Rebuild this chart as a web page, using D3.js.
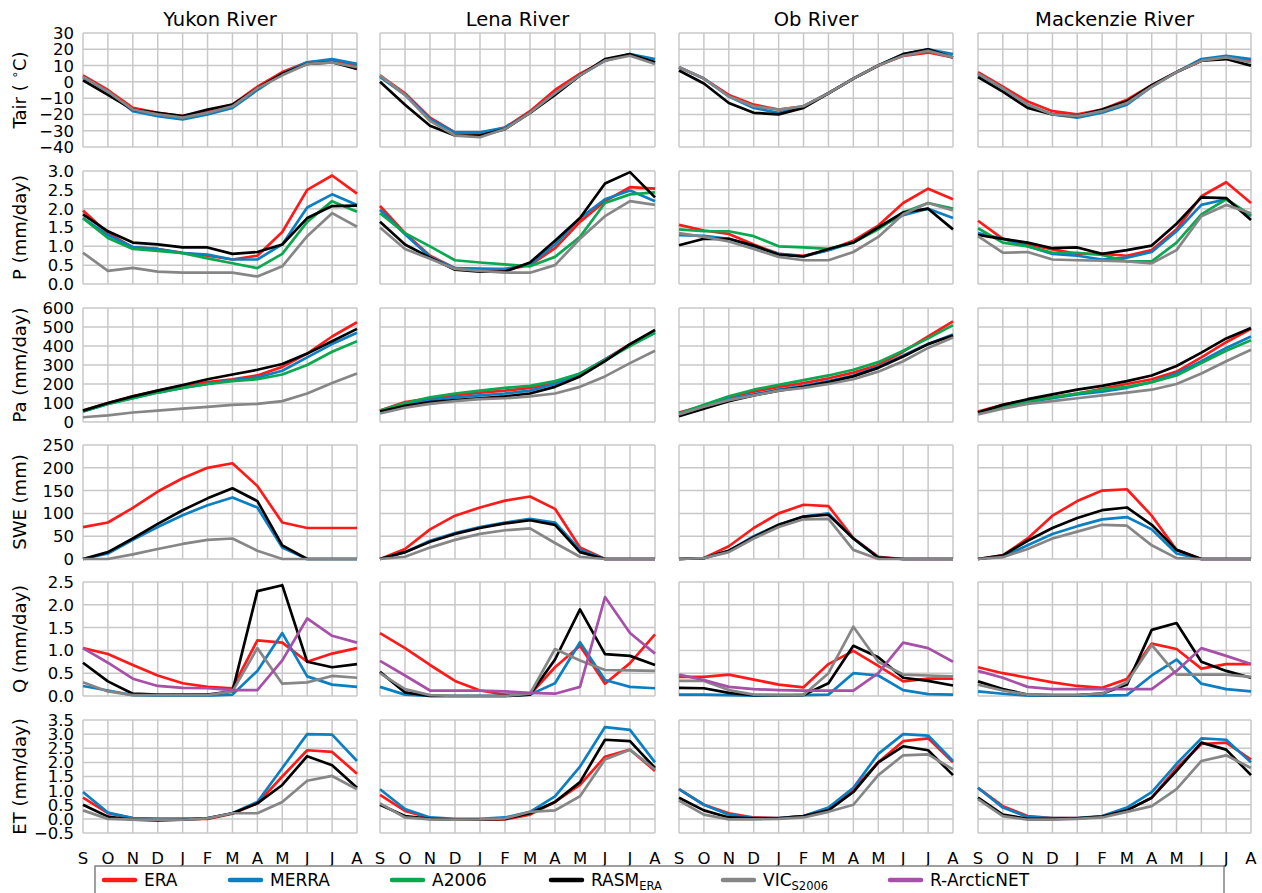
<!DOCTYPE html>
<html><head><meta charset="utf-8">
<script src="https://cdn.jsdelivr.net/npm/d3@7"></script>
<style>body{margin:0;background:#fff}svg{display:block;font-family:"DejaVu Sans",sans-serif}</style>
</head><body><svg id="c" width="1262" height="893"></svg>
<script>
const months = ["S","O","N","D","J","F","M","A","M","J","J","A"];
const rivers = ["Yukon River","Lena River","Ob River","Mackenzie River"];

// tick values per variable
const tairTicks = [-40,-30,-20,-10,0,10,20,30];
const pTicks = [0,0.5,1,1.5,2,2.5,3];
const paTicks = [0,100,200,300,400,500,600];
const sweTicks = [0,50,100,150,200,250];
const qTicks = [0,0.5,1,1.5,2,2.5];
const etTicks = [-0.5,0,0.5,1,1.5,2,2.5,3,3.5];

// each array: one row per river (Yukon, Lena, Ob, Mackenzie), 12 months S..A
const tair_ERA = [
 [4,-5,-16,-19,-21,-18,-14,-3,6,12,13,10],
 [4,-7,-22,-31,-32,-28,-18,-5,5,13,17,12],
 [9,2,-8,-14,-17,-15,-7,2,10,16,18,15],
 [6,-3,-12,-18,-20,-17,-11,-2,6,13,15,13]];
const tair_MERRA = [
 [3,-6,-18,-21,-23,-20,-16,-5,5,12,14,11],
 [3,-8,-23,-31,-31,-28,-19,-7,4,13,17,14],
 [9,2,-9,-16,-19,-15,-7,2,10,17,20,17],
 [5,-4,-14,-20,-22,-19,-14,-3,6,14,16,14]];
const tair_RASM = [
 [1,-8,-17,-19,-21,-17,-14,-4,5,11,12,8],
 [0,-14,-27,-33,-33,-29,-19,-8,4,14,17,12],
 [7,-1,-13,-19,-20,-16,-7,2,10,17,20,15],
 [3,-6,-16,-20,-21,-17,-12,-2,6,13,14,10]];
const tair_VIC = [
 [3,-6,-17,-20,-22,-19,-15,-4,4,11,12,9],
 [4,-8,-24,-33,-34,-29,-19,-7,4,13,16,11],
 [9,2,-9,-15,-17,-15,-7,2,10,16,19,15],
 [5,-4,-14,-20,-21,-18,-13,-3,6,13,15,12]];

const p_ERA = [
 [1.95,1.35,0.97,0.93,0.83,0.75,0.65,0.75,1.38,2.5,2.88,2.4],
 [2.07,1.35,0.75,0.42,0.4,0.38,0.5,0.95,1.65,2.2,2.57,2.53],
 [1.57,1.42,1.33,1.05,0.8,0.75,0.9,1.15,1.55,2.15,2.53,2.25],
 [1.68,1.2,1.05,0.92,0.8,0.8,0.75,0.9,1.45,2.33,2.7,2.15]];
const p_MERRA = [
 [1.75,1.3,0.98,0.93,0.82,0.78,0.65,0.65,1.05,2.03,2.38,2.1],
 [1.97,1.32,0.72,0.42,0.4,0.4,0.52,1.05,1.75,2.25,2.48,2.2],
 [1.3,1.28,1.2,1.0,0.8,0.73,0.9,1.1,1.5,1.83,2.0,1.75],
 [1.35,1.2,1.0,0.8,0.75,0.65,0.7,0.85,1.4,2.1,2.25,1.8]];
const p_A2006 = [
 [1.75,1.22,0.93,0.88,0.82,0.68,0.55,0.42,0.8,1.65,2.2,1.92],
 [1.88,1.35,1.0,0.63,0.57,0.52,0.47,0.72,1.25,2.15,2.38,2.43],
 [1.45,1.4,1.4,1.27,1.0,0.97,0.93,1.1,1.45,1.9,2.15,2.0],
 [1.48,1.1,1.0,0.83,0.83,0.77,0.6,0.6,1.1,1.85,2.25,1.83]];
const p_RASM = [
 [1.85,1.4,1.1,1.05,0.97,0.97,0.8,0.85,1.05,1.75,2.07,2.08],
 [1.65,1.05,0.7,0.38,0.33,0.33,0.57,1.15,1.75,2.67,2.97,2.3],
 [1.03,1.2,1.2,1.02,0.78,0.73,0.93,1.1,1.5,1.9,2.0,1.45],
 [1.3,1.2,1.1,0.95,0.97,0.8,0.9,1.02,1.6,2.3,2.28,1.7]];
const p_VIC = [
 [0.83,0.35,0.43,0.33,0.3,0.3,0.3,0.2,0.47,1.27,1.88,1.52],
 [1.5,0.93,0.67,0.4,0.35,0.3,0.3,0.5,1.2,1.8,2.2,2.1],
 [1.35,1.25,1.13,0.93,0.72,0.63,0.63,0.85,1.25,1.85,2.15,1.95],
 [1.27,0.83,0.85,0.65,0.63,0.62,0.6,0.55,0.9,1.8,2.1,1.88]];

const pa_ERA = [
 [60,100,135,165,190,210,225,245,290,360,450,525],
 [60,105,125,140,155,165,180,205,250,330,410,480],
 [50,85,130,160,185,205,230,260,300,370,450,530],
 [55,90,115,130,150,175,200,225,265,340,420,490]];
const pa_MERRA = [
 [55,95,125,155,180,200,220,235,270,340,410,470],
 [55,90,115,130,140,150,165,200,255,330,405,470],
 [45,85,120,145,170,190,215,245,290,350,410,460],
 [50,80,105,125,145,160,180,210,255,320,390,450]];
const pa_A2006 = [
 [55,95,125,155,180,200,215,225,250,300,370,425],
 [60,100,130,150,165,180,190,215,255,325,400,470],
 [45,90,135,170,195,220,245,275,315,375,440,510],
 [50,80,110,130,150,170,185,210,245,310,375,430]];
const pa_RASM = [
 [60,100,135,165,195,225,250,275,305,360,425,490],
 [55,85,105,115,125,135,150,185,240,320,410,485],
 [30,70,110,140,165,185,210,240,285,345,410,455],
 [50,90,120,145,170,190,215,245,295,365,440,495]];
const pa_VIC = [
 [25,35,50,60,70,80,90,95,110,150,205,255],
 [45,75,95,110,120,125,135,150,185,240,310,375],
 [40,80,115,140,165,180,200,225,265,320,390,445],
 [40,70,95,110,125,140,155,170,200,255,320,380]];

const swe_ERA = [
 [70,80,112,148,177,200,210,160,80,68,68,68],
 [0,22,65,95,113,128,137,110,25,0,0,0],
 [0,2,28,68,100,119,116,46,5,0,0,0],
 [0,8,45,95,127,150,153,95,20,0,0,0]];
const swe_MERRA = [
 [0,12,42,70,96,118,135,113,25,0,0,0],
 [0,15,40,57,70,80,88,80,20,0,0,0],
 [0,2,18,50,75,93,100,45,3,0,0,0],
 [0,5,30,55,72,87,92,65,12,0,0,0]];
const swe_RASM = [
 [0,15,45,77,107,133,155,127,30,0,0,0],
 [0,15,38,55,68,78,85,75,15,0,0,0],
 [0,2,18,48,75,93,97,45,3,0,0,0],
 [0,8,40,68,90,107,113,75,20,0,0,0]];
const swe_VIC = [
 [0,0,10,22,33,42,45,18,0,0,0,0],
 [0,5,25,42,55,63,67,35,5,0,0,0],
 [0,2,15,45,70,87,88,20,0,0,0,0],
 [0,4,22,45,60,75,73,30,2,0,0,0]];

const q_ERA = [
 [1.05,0.92,0.68,0.45,0.28,0.2,0.17,1.22,1.17,0.75,0.93,1.05],
 [1.38,1.05,0.68,0.33,0.12,0.03,0.03,0.63,1.1,0.27,0.72,1.35],
 [0.42,0.42,0.47,0.36,0.25,0.19,0.7,0.99,0.66,0.32,0.38,0.38],
 [0.63,0.5,0.4,0.3,0.22,0.18,0.37,1.15,1.03,0.6,0.7,0.7]];
const q_MERRA = [
 [0.22,0.12,0.02,0.01,0.01,0.01,0.03,0.55,1.38,0.43,0.25,0.2],
 [0.2,0.03,0,0,0,0,0.03,0.28,1.18,0.35,0.2,0.17],
 [0.03,0.03,0.02,0.01,0.01,0.02,0.03,0.5,0.45,0.13,0.04,0.03],
 [0.1,0.05,0.01,0.01,0.01,0.01,0.02,0.45,0.8,0.27,0.15,0.1]];
const q_RASM = [
 [0.73,0.32,0.05,0.03,0.03,0.03,0.1,2.3,2.43,0.75,0.63,0.7],
 [0.53,0.08,0,0,0,0,0.03,0.8,1.9,0.92,0.88,0.68],
 [0.18,0.17,0.07,0.02,0.02,0.02,0.28,1.1,0.85,0.4,0.33,0.23],
 [0.32,0.15,0.03,0.02,0.02,0.05,0.25,1.45,1.6,0.75,0.55,0.4]];
const q_VIC = [
 [0.3,0.1,0.02,0.02,0.02,0.02,0.1,1.05,0.27,0.3,0.44,0.4],
 [0.5,0.15,0.02,0,0,0,0.05,1.03,0.78,0.57,0.56,0.55],
 [0.33,0.33,0.13,0.03,0.02,0.02,0.5,1.52,0.75,0.47,0.45,0.43],
 [0.25,0.12,0.03,0.02,0.02,0.05,0.3,1.12,0.47,0.47,0.47,0.42]];
const q_RAN = [
 [1.05,0.73,0.38,0.22,0.18,0.17,0.13,0.13,0.78,1.7,1.32,1.17],
 [0.77,0.45,0.12,0.12,0.12,0.1,0.07,0.05,0.2,2.17,1.38,0.93],
 [0.47,0.35,0.2,0.15,0.13,0.12,0.12,0.12,0.5,1.17,1.05,0.75],
 [0.55,0.4,0.2,0.15,0.15,0.15,0.15,0.15,0.55,1.05,0.88,0.7]];

const et_ERA = [
 [0.75,0.2,0.03,0,0,0,0.18,0.55,1.5,2.43,2.37,1.6],
 [0.85,0.28,0.03,-0.03,-0.03,-0.02,0.15,0.6,1.2,2.2,2.45,1.7],
 [1.05,0.5,0.2,0.05,0.03,0.1,0.35,1.05,2.0,2.75,2.85,2.0],
 [1.1,0.45,0.1,0.03,0.03,0.08,0.3,0.75,1.8,2.65,2.7,2.1]];
const et_MERRA = [
 [0.95,0.22,0.03,0,0,0.03,0.2,0.6,1.8,3.0,2.98,2.05],
 [1.05,0.35,0.05,0,0,0.05,0.25,0.8,1.85,3.25,3.15,2.0],
 [1.05,0.5,0.15,0.03,0.03,0.1,0.4,1.1,2.3,3.0,2.95,2.05],
 [1.1,0.4,0.07,0.03,0.03,0.1,0.4,0.95,1.95,2.85,2.8,2.0]];
const et_RASM = [
 [0.5,0.08,-0.03,-0.05,-0.03,0.02,0.2,0.55,1.2,2.22,1.9,1.1],
 [0.5,0.1,0,-0.03,-0.03,0,0.2,0.6,1.3,2.8,2.75,1.8],
 [0.75,0.3,0.05,0.02,0.02,0.1,0.3,0.95,2.0,2.57,2.43,1.55],
 [0.75,0.15,0,0,0.02,0.08,0.3,0.75,1.7,2.7,2.45,1.55]];
const et_VIC = [
 [0.3,0,-0.03,-0.03,-0.03,0.02,0.2,0.2,0.6,1.35,1.52,1.05],
 [0.55,0.05,-0.02,-0.03,-0.02,0.02,0.25,0.3,0.8,2.1,2.45,1.75],
 [0.65,0.15,-0.02,-0.02,0,0.05,0.25,0.5,1.55,2.25,2.28,1.75],
 [0.7,0.1,-0.03,-0.03,0,0.05,0.25,0.45,1.05,2.05,2.25,1.8]];

const seriesKeys = ["ERA","MERRA","A2006","RASM","VIC","RAN"];
const colors = {ERA:"#ff1a1a", MERRA:"#0b7fc2", A2006:"#0aa84f", RASM:"#000000", VIC:"#868686", RAN:"#a650a8"};

const rowsDef = [
 {label:"tair", ticks:tairTicks, fmt:d3.format("d"), data:{ERA:tair_ERA, MERRA:tair_MERRA, RASM:tair_RASM, VIC:tair_VIC}},
 {label:"P (mm/day)", ticks:pTicks, fmt:d3.format(".1f"), data:{ERA:p_ERA, MERRA:p_MERRA, A2006:p_A2006, RASM:p_RASM, VIC:p_VIC}},
 {label:"Pa (mm/day)", ticks:paTicks, fmt:d3.format("d"), data:{ERA:pa_ERA, MERRA:pa_MERRA, A2006:pa_A2006, RASM:pa_RASM, VIC:pa_VIC}},
 {label:"SWE (mm)", ticks:sweTicks, fmt:d3.format("d"), data:{ERA:swe_ERA, MERRA:swe_MERRA, RASM:swe_RASM, VIC:swe_VIC}},
 {label:"Q (mm/day)", ticks:qTicks, fmt:d3.format(".1f"), data:{ERA:q_ERA, MERRA:q_MERRA, RASM:q_RASM, VIC:q_VIC, RAN:q_RAN}},
 {label:"ET (mm/day)", ticks:etTicks, fmt:d3.format(".1f"), data:{ERA:et_ERA, MERRA:et_MERRA, RASM:et_RASM, VIC:et_VIC}}
];

const svg = d3.select("#c");
const colX = [[83,357],[380,655],[679,953],[978,1251]];
const rowY = [[33,147],[171,284],[308,422],[445,559],[582,696],[720,833]];
const gridColor = "#c8c8c8";

rivers.forEach((r,ci)=>{
  svg.append("text").attr("x",(colX[ci][0]+colX[ci][1])/2).attr("y",26)
    .attr("text-anchor","middle").attr("font-size",19.5).text(r);
});

rowsDef.forEach((row,ri)=>{
  const y = d3.scaleLinear().domain(d3.extent(row.ticks)).range([rowY[ri][1],rowY[ri][0]]);
  const cy = (rowY[ri][0]+rowY[ri][1])/2;
  const lab = svg.append("text").attr("transform",`translate(26,${cy}) rotate(-90)`)
    .attr("text-anchor","middle").attr("font-size",18);
  if(row.label==="tair"){
    lab.append("tspan").text("Tair ( ");
    lab.append("tspan").attr("font-size",12).attr("dy",-7).text("∘");
    lab.append("tspan").attr("dy",7).text("C)");
  } else lab.text(row.label);

  colX.forEach((cx,ci)=>{
    const x = d3.scaleLinear().domain([0,11]).range(cx);
    const g = svg.append("g");
    g.selectAll(".vg").data(d3.range(12)).join("line")
      .attr("x1",d=>x(d)).attr("x2",d=>x(d)).attr("y1",rowY[ri][0]).attr("y2",rowY[ri][1])
      .attr("stroke",gridColor).attr("stroke-width",1.5);
    g.selectAll(".hg").data(row.ticks).join("line")
      .attr("x1",cx[0]).attr("x2",cx[1]).attr("y1",d=>y(d)).attr("y2",d=>y(d))
      .attr("stroke",gridColor).attr("stroke-width",1.5);
    if(ci===0){
      g.selectAll(".yt").data(row.ticks).join("text")
        .attr("x",cx[0]-9).attr("y",d=>y(d)).attr("dy","0.36em")
        .attr("text-anchor","end").attr("font-size",16.5).text(d=>row.fmt(d));
    }
    if(ri===rowsDef.length-1){
      g.selectAll(".mt").data(months).join("text")
        .attr("x",(d,i)=>x(i)).attr("y",864)
        .attr("text-anchor","middle").attr("font-size",16.5).text(d=>d);
    }
    const line = d3.line().x((d,i)=>x(i)).y(d=>y(d));
    seriesKeys.forEach(k=>{
      if(!row.data[k]) return;
      g.append("path").attr("d",line(row.data[k][ci])).attr("fill","none")
        .attr("stroke",colors[k]).attr("stroke-width",2.7).attr("stroke-linejoin","round");
    });
  });
});

// legend
const lg = svg.append("g");
lg.append("rect").attr("x",95).attr("y",866).attr("width",1129).attr("height",40)
  .attr("fill","#fff").attr("stroke","#808080").attr("stroke-width",1.5);
const legendItems = [
 {k:"ERA", x:104, t:"ERA"},
 {k:"MERRA", x:230, t:"MERRA"},
 {k:"A2006", x:392, t:"A2006"},
 {k:"RASM", x:551, t:"RASM", sub:"ERA"},
 {k:"VIC", x:723, t:"VIC", sub:"S2006"},
 {k:"RAN", x:890, t:"R-ArcticNET"}];
legendItems.forEach(it=>{
  lg.append("line").attr("x1",it.x).attr("x2",it.x+31).attr("y1",880).attr("y2",880)
    .attr("stroke",colors[it.k]).attr("stroke-width",4.5).attr("stroke-linecap","round");
  const t = lg.append("text").attr("x",it.x+40).attr("y",886).attr("font-size",17).text(it.t);
  if(it.sub) t.append("tspan").attr("font-size",11.5).attr("dy",4).text(it.sub);
});
</script></body></html>
